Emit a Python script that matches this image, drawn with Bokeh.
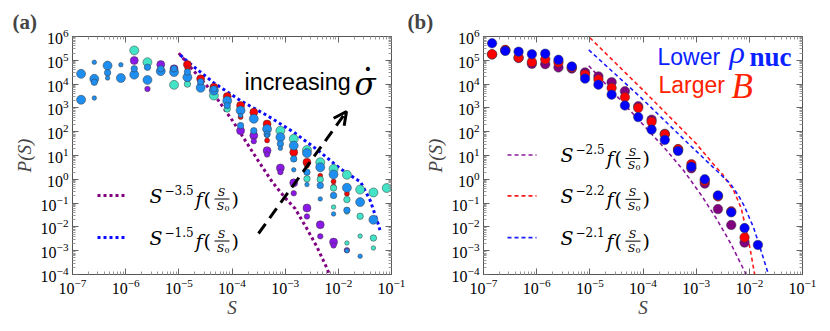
from bokeh.plotting import figure
from bokeh.models import (Label, Arrow, OpenHead, LogAxis, FixedTicker,
                          CustomJSTickFormatter, Range1d)
from bokeh.layouts import row
from bokeh.embed import file_html
from bokeh.resources import INLINE

# ---------------- data ----------------
S_BINS = [1.45e-7, 2.57e-7, 4.57e-7, 8.13e-7, 1.45e-6, 2.57e-6, 4.57e-6, 8.13e-6,
          1.45e-5, 2.57e-5, 4.57e-5, 8.13e-5, 1.45e-4, 2.57e-4, 4.57e-4, 8.13e-4,
          1.45e-3, 2.57e-3, 4.57e-3, 8.13e-3, 1.45e-2, 2.57e-2, 4.57e-2, 8.13e-2]

X_TICKS = [1e-7, 1e-6, 1e-5, 1e-4, 1e-3, 1e-2, 1e-1]
Y_TICKS = [1e-4, 1e-3, 1e-2, 1e-1, 1e0, 1e1, 1e2, 1e3, 1e4, 1e5, 1e6]

# panel (a): bin index lists and P(S) values
A_PURPLE_L_K = [4, 6, 7, 12, 13, 14, 15, 16, 17, 18, 19]
A_PURPLE_L_P = [9.8e4, 6.6e4, 4.4e4, 1.1e2, 69, 16, 3.0, 0.71, 0.062, 0.0123, 2.3e-3]
A_PURPLE_S_K = [5, 13, 14, 15, 16, 17, 18, 19, 20]
A_PURPLE_S_P = [6.3e3, 40, 11, 2.0, 0.26, 0.0275, 4.0e-3, 1.66e-3, 1.05e-3]

A_RED_L_K = [8, 9, 10, 11, 12, 13, 14, 16, 17]
A_RED_L_P = [6.6e4, 1.66e4, 7.4e3, 3.0e3, 1.26e3, 6.6e2, 2.1e2, 13.8, 5.2]
A_RED_S_K = [8, 12, 14, 17, 18, 19, 19, 20]
A_RED_S_P = [4.4e4, 4.1e2, 43, 3.8, 1.4, 0.81, 0.5, 0.25]

A_TURQ_L_K = [4, 5, 7, 10, 15, 16, 17, 18, 19, 20, 21, 22, 23]
A_TURQ_L_P = [2.6e5, 8.3e4, 9.3e3, 3.3e3, 1.1e2, 50, 17, 5.2, 2.75, 1.55, 0.37, 0.28, 0.43]
A_TURQ_M_K = [8, 9, 11, 17, 18, 19, 20, 21, 22]
A_TURQ_M_P = [1.0e4, 8.7e3, 9.0e2, 1.05, 0.98, 0.43, 0.14, 0.028, 3.4e-3]
A_TURQ_S_K = [19, 20, 20, 21, 22]
A_TURQ_S_P = [0.068, 0.042, 2.1e-3, 4.1e-3, 1.3e-3]

A_BLUE_L_K = [0, 0, 1, 2, 3, 4, 5, 6, 7, 8, 9, 10, 11, 12, 13, 14, 15, 16, 17, 18, 19, 20, 21, 22]
A_BLUE_L_P = [2.7e4, 2.2e3, 1.66e4, 6.0e4, 1.8e4, 2.5e4, 1.5e4, 3.5e4, 3.2e4, 1.95e4, 7.0e3,
              5.4e3, 2.0e3, 7.8e2, 3.5e2, 1.3e2, 59, 26, 12.6, 3.2, 1.6, 0.44, 0.11, 0.02]
A_BLUE_M_K = [1, 2, 4, 5, 6, 7, 8, 9, 10, 11, 12, 13, 14, 15, 16, 17, 18, 19, 20]
A_BLUE_M_P = [1.2e4, 3.0e4, 4.4e4, 5.1e4, 4.4e4, 4.4e4, 3.2e4, 1.26e4, 6.3e3, 1.26e3, 1.8e2,
              1.1e2, 79, 31, 7.2, 2.0, 0.55, 0.21, 0.05]
A_BLUE_S_K = [1, 1, 2, 3, 12, 14, 15, 16, 17, 18, 19, 20, 21]
A_BLUE_S_P = [8.3e4, 2.6e3, 1.8e4, 6.5e4, 4.8e2, 69, 20, 2.5, 0.6, 0.15, 0.035, 1.0e-3, 5.9e-4]

A_FIT35_S = [1.0e-5, 1.66e-5, 4.47e-5, 1.07e-4, 2.95e-4, 5.75e-4, 1.02e-3, 1.55e-3,
             2.57e-3, 3.98e-3, 6.17e-3, 6.76e-3]
A_FIT35_P = [2.0e5, 5.1e4, 4.1e3, 2.5e2, 7.2, 0.76, 0.158, 0.0575, 8.3e-3, 1.41e-3,
             1.74e-4, 1.0e-4]
A_FIT15_S = [1.07e-5, 1.45e-5, 4.57e-5, 1.45e-4, 4.57e-4, 1.45e-3, 3.98e-3, 1.1e-2,
             2.63e-2, 3.98e-2, 5.75e-2, 6.17e-2]
A_FIT15_P = [1.66e5, 8.9e4, 1.12e4, 2.0e3, 4.8e2, 95, 17.8, 2.75, 0.76, 0.129, 0.0115, 6.3e-3]

# panel (b)
B_PURPLE_P = [1.75e5, 2.6e5, 1.26e5, 7.1e4, 6.9e4, 5.0e4, 4.5e4, 3.1e4, 2.1e4, 1.2e4, 5.0e3,
              1.17e3, 3.2e2, 81, 17.8, 2.9, 0.66, 0.056, 0.012, 2.2e-3]
B_RED_P = [1.8e5, 2.75e5, 1.3e5, 8.5e4, 1.1e5, 8.1e4, 5.0e4, 2.5e4, 1.55e4, 6.9e3, 2.8e3,
           1.0e3, 2.6e2, 78, 18.6, 4.3, 0.85, 0.19, 0.045, 3.6e-3]
B_BLUE_P = [5.2e5, 2.5e5, 2.3e5, 1.8e5, 1.9e5, 1.05e5, 5.5e4, 1.7e4, 9.5e3, 3.6e3, 1.26e3,
            4.1e2, 1.23e2, 45, 15.5, 3.4, 1.0, 0.21, 0.041, 8.9e-3, 1.74e-3]

B_FIT25_S = [9.55e-6, 1.0e-4, 2.82e-4, 5.89e-4, 1.26e-3, 2.51e-3, 4.47e-3, 8.5e-3, 8.9e-3]
B_FIT25_P = [5.9e4, 2.0e2, 15.8, 2.24, 0.21, 0.019, 2.0e-3, 1.12e-4, 1.0e-4]
B_FIT22_S = [1.0e-5, 1.0e-4, 1.0e-3, 2.0e-3, 3.16e-3, 5.13e-3, 7.0e-3, 8.5e-3, 1.05e-2, 1.26e-2]
B_FIT22_P = [8.9e5, 5.6e3, 31.6, 5.0, 1.58, 0.32, 0.063, 0.01, 1.0e-3, 1.0e-4]
B_FIT21_S = [9.55e-6, 1.0e-4, 7.94e-4, 2.0e-3, 4.47e-3, 6.3e-3, 7.94e-3, 1.2e-2, 1.66e-2, 2.29e-2]
B_FIT21_P = [2.75e5, 2.24e3, 25, 3.5, 0.63, 0.2, 0.079, 9.5e-3, 1.0e-3, 1.0e-4]

# ---------------- styling constants ----------------
C_PURPLE_A = "#8a18e6"
C_RED = "#ff0000"
C_TURQ = "#42e3c6"
C_BLUE_A = "#1e8ff0"
C_PURPLE_B = "#800080"
C_BLUE_B = "#0000ff"
EDGE = "#3a3a3a"
SERIF = "Liberation Serif"
MATH = "DejaVu Serif"
SANS = "Liberation Sans"

H = 330
FRAME_A = (72, 391, 36, 274)      # page px: left, right, top, bottom
FRAME_B = (483, 802, 35, 274)


def minors(majors):
    return [m * k for m in majors[:-1] for k in range(2, 10)]


def at(frame, px, py):
    l, r, t, b = frame
    return (10 ** (-7 + 6 * (px - l) / (r - l)), 10 ** (6 - 10 * (py - t) / (b - t)))


def style_axis(ax):
    ax.major_tick_in = 6
    ax.major_tick_out = 0
    ax.minor_tick_in = 3
    ax.minor_tick_out = 0
    ax.axis_line_color = "#555555"
    ax.major_tick_line_color = "#666666"
    ax.minor_tick_line_color = "#999999"
    ax.major_label_text_font = SERIF
    ax.major_label_text_font_size = "16px"
    ax.major_label_text_color = "black"
    ax.major_label_standoff = 4
    ax.axis_label_text_font = SERIF
    ax.axis_label_text_font_style = "italic"
    ax.axis_label_text_font_size = "19px"
    ax.axis_label_standoff = 3


def make_fig(width, frame, page_left, tag, tag_x):
    l, r, t, b = frame
    p = figure(width=width, height=H, x_axis_type="log", y_axis_type="log",
               x_range=Range1d(1e-7, 1e-1), y_range=Range1d(1e-4, 1e6),
               output_backend="svg", toolbar_location=None,
               min_border_left=l - page_left, min_border_right=page_left + width - r,
               min_border_top=t, min_border_bottom=H - b)
    p.grid.visible = False
    p.outline_line_color = "#555555"
    p.background_fill_color = "white"
    p.border_fill_color = "white"
    p.xaxis[0].ticker = FixedTicker(ticks=X_TICKS, minor_ticks=minors(X_TICKS))
    p.yaxis[0].ticker = FixedTicker(ticks=Y_TICKS, minor_ticks=minors(Y_TICKS))
    p.xaxis[0].axis_label = "S"
    p.yaxis[0].axis_label = "P(S)"
    style_axis(p.xaxis[0])
    style_axis(p.yaxis[0])
    p.xaxis[0].axis_label_standoff = 0
    blank = CustomJSTickFormatter(code="return ''")
    top = LogAxis(ticker=FixedTicker(ticks=X_TICKS, minor_ticks=minors(X_TICKS)), formatter=blank)
    right = LogAxis(ticker=FixedTicker(ticks=Y_TICKS, minor_ticks=minors(Y_TICKS)), formatter=blank)
    for ax in (top, right):
        style_axis(ax)
        ax.major_label_standoff = 0
        ax.major_label_text_font_size = "0px"
    p.add_layout(top, "above")
    p.add_layout(right, "right")
    # panel tag as title
    p.title.text = tag
    p.title.text_font = SERIF
    p.title.text_font_style = "bold"
    p.title.text_font_size = "21px"
    p.title.align = "left"
    p.title.offset = tag_x - l
    p.title.standoff = 6
    return p


def add_text(p, frame, px, py, text, size, font=SERIF, style="normal", color="black",
             align="left"):
    x, y = at(frame, px, py)
    p.add_layout(Label(x=x, y=y, text=text, text_font=font, text_font_size=f"{size}px",
                       text_font_style=style, text_color=color, text_align=align,
                       text_baseline="middle"))


def add_expr(p, frame, x0, yc, expo):
    add_text(p, frame, x0, yc, "S", 19, font=MATH, style="italic")
    add_text(p, frame, x0 + 15, yc - 6, "\u2212" + expo, 12, font=MATH)
    add_text(p, frame, x0 + 46, yc + 3, "f", 19, font=MATH, style="italic")
    add_text(p, frame, x0 + 54, yc + 3, "(", 19, font=MATH)
    add_text(p, frame, x0 + 72, yc - 3, "S", 11, font=MATH, style="italic", align="center")
    xa, ya = at(frame, x0 + 65, yc + 3.5)
    xb, _ = at(frame, x0 + 80, yc + 3.5)
    p.line([xa, xb], [ya, ya], line_color="black", line_width=1)
    add_text(p, frame, x0 + 71, yc + 10.5, "S", 11, font=MATH, style="italic", align="center")
    add_text(p, frame, x0 + 75, yc + 13, "0", 8, font=MATH)
    add_text(p, frame, x0 + 82, yc + 3, ")", 19, font=MATH)


def pts(ks, ps):
    return [S_BINS[k] for k in ks], ps


# ---------------- panel (a) ----------------
pa = make_fig(406, FRAME_A, 0, "(a)", 12)

pa.line(A_FIT35_S, A_FIT35_P, line_color="#800080", line_width=3, line_dash="3 3")
pa.line(A_FIT15_S, A_FIT15_P, line_color="#0a0aff", line_width=3, line_dash="3 3")

series_a = [
    (A_PURPLE_L_K, A_PURPLE_L_P, C_PURPLE_A, 8),
    (A_PURPLE_S_K, A_PURPLE_S_P, C_PURPLE_A, 5.5),
    (A_RED_L_K, A_RED_L_P, C_RED, 8),
    (A_RED_S_K, A_RED_S_P, C_RED, 5),
    (A_TURQ_L_K, A_TURQ_L_P, C_TURQ, 9),
    (A_TURQ_M_K, A_TURQ_M_P, C_TURQ, 6.5),
    (A_TURQ_S_K, A_TURQ_S_P, C_TURQ, 4.5),
    (A_BLUE_L_K, A_BLUE_L_P, C_BLUE_A, 9),
    (A_BLUE_M_K, A_BLUE_M_P, C_BLUE_A, 6.5),
    (A_BLUE_S_K, A_BLUE_S_P, C_BLUE_A, 4.5),
]
for ks, ps, col, sz in series_a:
    xs, ys = pts(ks, ps)
    pa.scatter(xs, ys, size=sz, fill_color=col, line_color=EDGE, line_width=0.5)

# legend (a)
for yc, col, expo in ((195, "#800080", "3.5"), (237, "#0a0aff", "1.5")):
    xa, ya = at(FRAME_A, 97, yc)
    xb, _ = at(FRAME_A, 125, yc)
    pa.line([xa, xb], [ya, ya], line_color=col, line_width=3, line_dash="3 3")
    add_expr(pa, FRAME_A, 149, yc, expo)

# arrow and annotation
xs_, ys_ = at(FRAME_A, 258, 233)
xe_, ye_ = at(FRAME_A, 346, 111)
pa.add_layout(Arrow(end=OpenHead(size=13, line_width=3, line_color="black"),
                    x_start=xs_, y_start=ys_, x_end=xe_, y_end=ye_,
                    line_width=3, line_dash="12 7", line_color="black"))
add_text(pa, FRAME_A, 244, 81, "increasing", 23.3, font=SANS)
add_text(pa, FRAME_A, 354, 83, "\u03c3", 31, font=MATH, style="italic")
add_text(pa, FRAME_A, 367.5, 68, "\u2022", 14, font="DejaVu Sans", align="center")

# ---------------- panel (b) ----------------
pb = make_fig(422, FRAME_B, 406, "(b)", 407)

pb.line(B_FIT25_S, B_FIT25_P, line_color="#8b1a9b", line_width=1.6, line_dash="4 3")
pb.line(B_FIT22_S, B_FIT22_P, line_color="#ff1a1a", line_width=1.6, line_dash="4 3")
pb.line(B_FIT21_S, B_FIT21_P, line_color="#1a1aff", line_width=1.6, line_dash="4 3")

pb.scatter(S_BINS[:len(B_PURPLE_P)], B_PURPLE_P, size=9.5, fill_color=C_PURPLE_B,
           line_color=EDGE, line_width=0.5)
pb.scatter(S_BINS[:len(B_RED_P)], B_RED_P, size=9.5, fill_color=C_RED,
           line_color=EDGE, line_width=0.5)
pb.scatter(S_BINS[:len(B_BLUE_P)], B_BLUE_P, size=9.5, fill_color=C_BLUE_B,
           line_color=EDGE, line_width=0.5)

for yc, col, expo in ((154, "#8b1a9b", "2.5"), (195, "#ff1a1a", "2.2"), (237, "#1a1aff", "2.1")):
    xa, ya = at(FRAME_B, 507, yc)
    xb, _ = at(FRAME_B, 536, yc)
    pb.line([xa, xb], [ya, ya], line_color=col, line_width=1.6, line_dash="4 3")
    add_expr(pb, FRAME_B, 560, yc, expo)

add_text(pb, FRAME_B, 657, 56, "Lower", 23, font=SANS, color="#0a22ff")
add_text(pb, FRAME_B, 729, 51, "\u03c1", 32, style="italic", color="#0a22ff")
add_text(pb, FRAME_B, 749, 56, "nuc", 27, style="bold", color="#0a22ff")
add_text(pb, FRAME_B, 658, 84, "Larger", 23, font=SANS, color="#ff2200")
add_text(pb, FRAME_B, 731, 85, "B", 35, style="italic", color="#ff2200")

layout = row(pa, pb)
open("out.html", "w").write(file_html(layout, INLINE))
